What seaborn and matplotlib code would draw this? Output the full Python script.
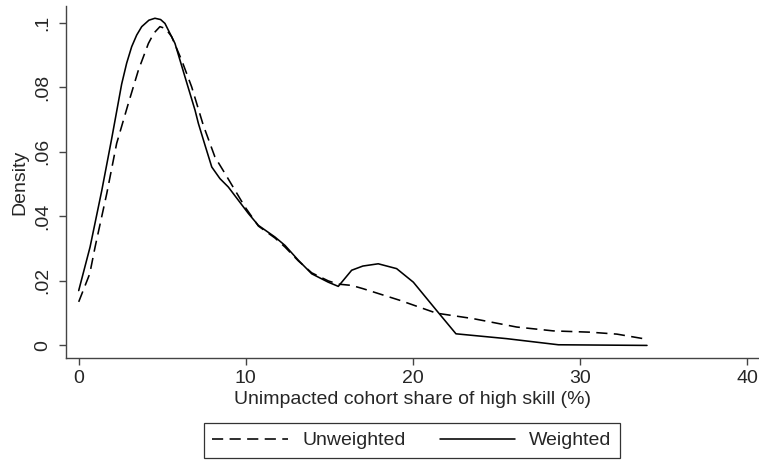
import matplotlib
matplotlib.use("Agg")
import matplotlib.pyplot as plt
import seaborn as sns
import pandas as pd
from matplotlib.lines import Line2D

# Data
w_x = [0, 0.68, 1.38, 1.97, 2.57, 2.87, 3.17, 3.47, 3.77, 4.2, 4.56, 4.9, 5.16, 5.76, 6.36,
       6.96, 7.16, 7.56, 7.96, 8.45, 8.95, 9.55, 10.15, 10.75, 11.74, 12.34, 13.14, 13.94,
       14.93, 15.53, 16.33, 17.0, 17.92, 19.02, 20.02, 21.4, 22.57, 25.6, 28.7, 34.0]
w_y = [0.017, 0.0305, 0.048, 0.064, 0.081, 0.0875, 0.0926, 0.0962, 0.0988, 0.1008, 0.1014,
       0.1010, 0.0998, 0.0936, 0.0832, 0.0729, 0.0688, 0.062, 0.0553, 0.0517, 0.0491, 0.045,
       0.0409, 0.0372, 0.0336, 0.031, 0.0264, 0.0222, 0.0196, 0.0183, 0.0233, 0.0246, 0.0253,
       0.0238, 0.0196, 0.0109, 0.0036, 0.0021, 0.0002, 0.0]
u_x = [0, 0.66, 0.98, 1.68, 2.27, 2.97, 3.57, 4.17, 4.5, 4.86, 5.2, 5.56, 6.16, 6.76, 7.45,
       8.15, 8.75, 9.35, 9.95, 10.75, 11.74, 12.34, 13.14, 13.94, 14.93, 15.53, 16.33, 17.0,
       19.2, 21.4, 23.6, 26.2, 28.4, 30.6, 32.2, 34]
u_y = [0.0135, 0.0222, 0.0305, 0.0471, 0.0626, 0.075, 0.0853, 0.0936, 0.0968, 0.0988, 0.0982,
       0.0957, 0.0884, 0.0801, 0.0683, 0.0584, 0.0533, 0.0481, 0.0429, 0.0370, 0.0333, 0.0305,
       0.0262, 0.0225, 0.0200, 0.019, 0.0186, 0.0176, 0.014, 0.0100, 0.0083, 0.0057, 0.0045,
       0.0041, 0.0035, 0.0019]
series_names = ["Unweighted", "Weighted"]
x_ticks = [0, 10, 20, 30, 40]
y_ticks = [0, 0.02, 0.04, 0.06, 0.08, 0.1]
y_tick_labels = ["0", ".02", ".04", ".06", ".08", ".1"]

df = pd.concat([
    pd.DataFrame({"x": u_x, "y": u_y, "series": series_names[0]}),
    pd.DataFrame({"x": w_x, "y": w_y, "series": series_names[1]}),
], ignore_index=True)

sns.set_style("white")
plt.rcParams["font.family"] = ["Liberation Sans", "DejaVu Sans"]

fig = plt.figure(figsize=(7.59, 4.61), dpi=100)
ax = fig.add_axes([66 / 759, 1 - 358 / 461, 1 - 66 / 759, (358 - 6) / 461])

lw = 1.15
for name, ls in zip(series_names, [(0, (7, 4)), "-"]):
    sub = df[df["series"] == name]
    sns.lineplot(data=sub, x="x", y="y", ax=ax, color="black", linewidth=lw,
                 linestyle=ls, sort=False, estimator=None, legend=False)

ax.set_xlim(-0.76, 40.7)
ax.set_ylim(-0.0039, 0.1052)
ax.set_xticks(x_ticks)
ax.set_xticklabels([str(t) for t in x_ticks])
ax.set_yticks(y_ticks)
ax.set_yticklabels(y_tick_labels, rotation=90, va="center")

for s in ["top", "right"]:
    ax.spines[s].set_visible(False)
for s in ["left", "bottom"]:
    ax.spines[s].set_color("#444444")
    ax.spines[s].set_linewidth(1.0)

fs = 14
ax.tick_params(axis="both", which="major", direction="out", length=5, width=1.0,
               color="#444444", labelsize=fs, left=True, bottom=True)
ax.tick_params(axis="x", pad=3.5)
ax.tick_params(axis="y", pad=5.5)
ax.set_xlabel("Unimpacted cohort share of high skill (%)", fontsize=fs, labelpad=3)
ax.set_ylabel("Density", fontsize=fs, labelpad=4)

handles = [Line2D([], [], color="black", linewidth=lw, linestyle=(0, (7, 4))),
           Line2D([], [], color="black", linewidth=lw, linestyle="-")]
leg = fig.legend(handles, series_names, loc="center", bbox_to_anchor=(412 / 759, 1 - 440.5 / 461),
                 ncol=2, frameon=True, fancybox=False, fontsize=fs, handlelength=3.9,
                 handletextpad=0.72, columnspacing=1.75, borderpad=0.45, borderaxespad=0)
leg.get_frame().set_edgecolor("black")
leg.get_frame().set_linewidth(0.9)

fig.savefig("out.png", dpi=100)
